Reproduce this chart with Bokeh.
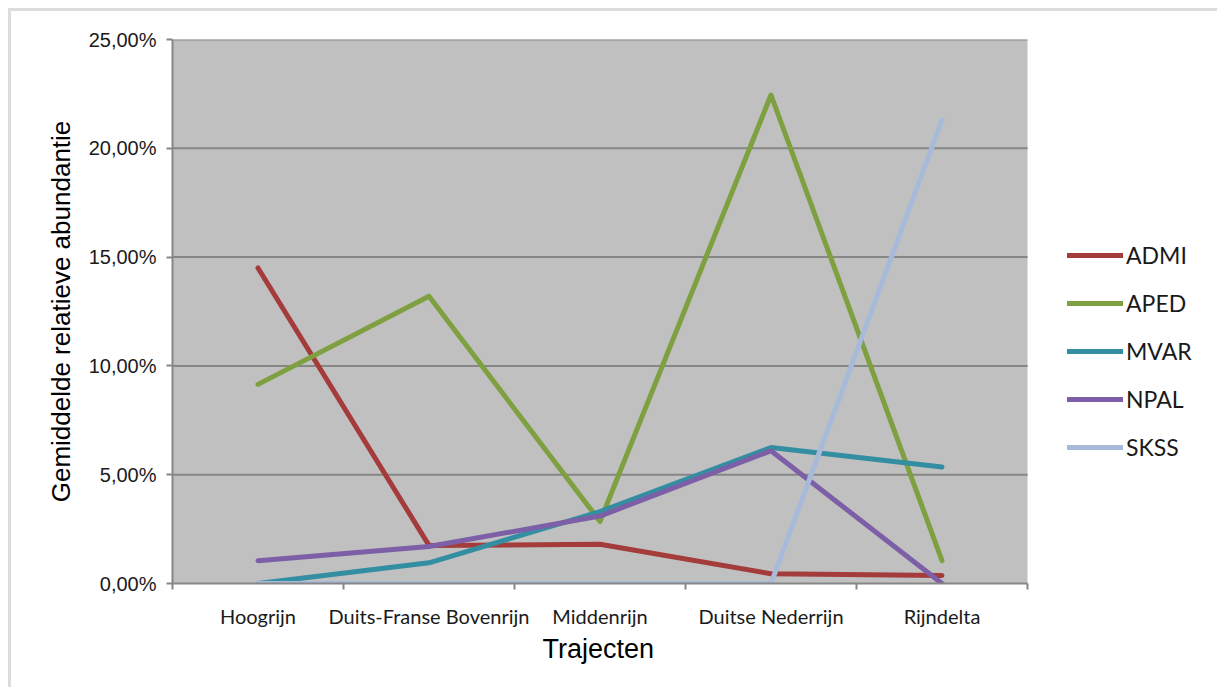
from bokeh.plotting import figure
from bokeh.layouts import column
from bokeh.models import Range1d, FixedTicker, CustomJSTickFormatter, BoxAnnotation
from bokeh.embed import file_html
from bokeh.resources import INLINE

# Trajecten langs de Rijn
trajecten = ["Hoogrijn", "Duits-Franse Bovenrijn", "Middenrijn",
             "Duitse Nederrijn", "Rijndelta"]

# Gemiddelde relatieve abundantie (%) per soort
admi = [14.5, 1.75, 1.8, 0.45, 0.37]
aped = [9.15, 13.2, 2.85, 22.45, 1.05]
mvar = [0.0, 0.95, 3.3, 6.25, 5.35]
npal = [1.05, 1.7, 3.1, 6.1, 0.0]
skss = [0.0, 0.0, 0.0, 0.0, 21.3]

# y-axis ticks (%)
y_ticks = [0, 5, 10, 15, 20, 25]

series = [("ADMI", admi, "#a33c3a"),
          ("APED", aped, "#7ea040"),
          ("MVAR", mvar, "#348ea2"),
          ("NPAL", npal, "#7d5fa7"),
          ("SKSS", skss, "#a7bad9")]

OFF_X, OFF_Y = 11, 12            # white margin + light frame line
W, H = 1217 - OFF_X, 688 - OFF_Y
LEFT, TOP, BOTTOM = 172 - OFF_X, 40 - OFF_Y, 104
PLOT_W = 855                     # width of the grey plotting area

n = len(trajecten)
# the frame runs to the right edge so the legend can sit beside the grey area
x_end = n * (W - LEFT) / PLOT_W

p = figure(width=W, height=H, output_backend="svg", toolbar_location=None,
           x_range=Range1d(0, x_end), y_range=Range1d(0, y_ticks[-1]),
           min_border_left=LEFT, min_border_right=0,
           min_border_top=TOP, min_border_bottom=BOTTOM)

p.background_fill_color = "white"
p.border_fill_color = "white"
p.outline_line_color = None

# grey plotting area and horizontal gridlines
p.add_layout(BoxAnnotation(left=0, right=n, bottom=0, top=y_ticks[-1],
                           fill_color="#c0c0c0", fill_alpha=1,
                           line_color=None, level="underlay"))
grid_y = y_ticks[1:]
p.segment(x0=[0] * len(grid_y), x1=[n] * len(grid_y), y0=grid_y, y1=grid_y,
          line_color="#868686", line_width=2)

# category centres on a numeric axis, tick marks on the boundaries
centres = [i + 0.5 for i in range(n)]

for name, vals, col in series:
    p.line(centres, vals, line_color=col, line_width=5,
           line_cap="round", line_join="round", legend_label=name)

# x axis
xa = p.xaxis[0]
xa.bounds = (0, n)
xa.ticker = FixedTicker(ticks=centres, minor_ticks=list(range(n + 1)))
xa.major_label_overrides = {c: t for c, t in zip(centres, trajecten)}
xa.major_tick_out = 0
xa.major_tick_in = 0
xa.minor_tick_out = 6
xa.minor_tick_in = 0
xa.minor_tick_line_color = "#868686"
xa.minor_tick_line_width = 2
xa.axis_line_color = "#868686"
xa.axis_line_width = 2
xa.major_label_text_font = "Lato"
xa.major_label_text_font_size = "20px"
xa.major_label_text_color = "#1a1a1a"
xa.major_label_standoff = 14

# x-axis title, centred under the grey area
p.title_location = "below"
p.title.text = "Trajecten"
p.title.align = "left"
p.title.offset = 370
p.title.standoff = 2
p.title.text_font = "Liberation Sans"
p.title.text_font_size = "27px"
p.title.text_font_style = "normal"
p.title.text_color = "black"

# y axis
ya = p.yaxis[0]
ya.ticker = FixedTicker(ticks=y_ticks, minor_ticks=[])
ya.formatter = CustomJSTickFormatter(
    code="return tick.toFixed(2).replace('.', ',') + '%';")
ya.major_tick_out = 6
ya.major_tick_in = 0
ya.major_tick_line_color = "#868686"
ya.major_tick_line_width = 2
ya.axis_line_color = "#868686"
ya.axis_line_width = 2
ya.major_label_text_font = "Liberation Sans"
ya.major_label_text_font_size = "20px"
ya.major_label_text_color = "#1a1a1a"
ya.major_label_standoff = 10
ya.axis_label = "Gemiddelde relatieve abundantie"
ya.axis_label_text_font = "Liberation Sans"
ya.axis_label_text_font_size = "26px"
ya.axis_label_text_font_style = "normal"
ya.axis_label_text_color = "black"
ya.axis_label_standoff = 10

p.xgrid.grid_line_color = None
p.ygrid.grid_line_color = None

# legend beside the grey area
leg = p.legend[0]
leg.location = (PLOT_W + 40, 122)
leg.glyph_width = 56
leg.glyph_height = 20
leg.label_height = 20
leg.spacing = 20
leg.padding = 0
leg.margin = 0
leg.label_standoff = 3
leg.label_text_font = "Lato"
leg.label_text_font_size = "23px"
leg.label_text_color = "#1a1a1a"
leg.border_line_color = None
leg.background_fill_alpha = 0

# light chart frame along the top and left
page = column(p, margin=(8, 0, 0, 8),
              styles={"border-top": "3px solid #dcdcdc",
                      "border-left": "3px solid #dcdcdc"})

open("out.html", "w").write(file_html(page, INLINE))
